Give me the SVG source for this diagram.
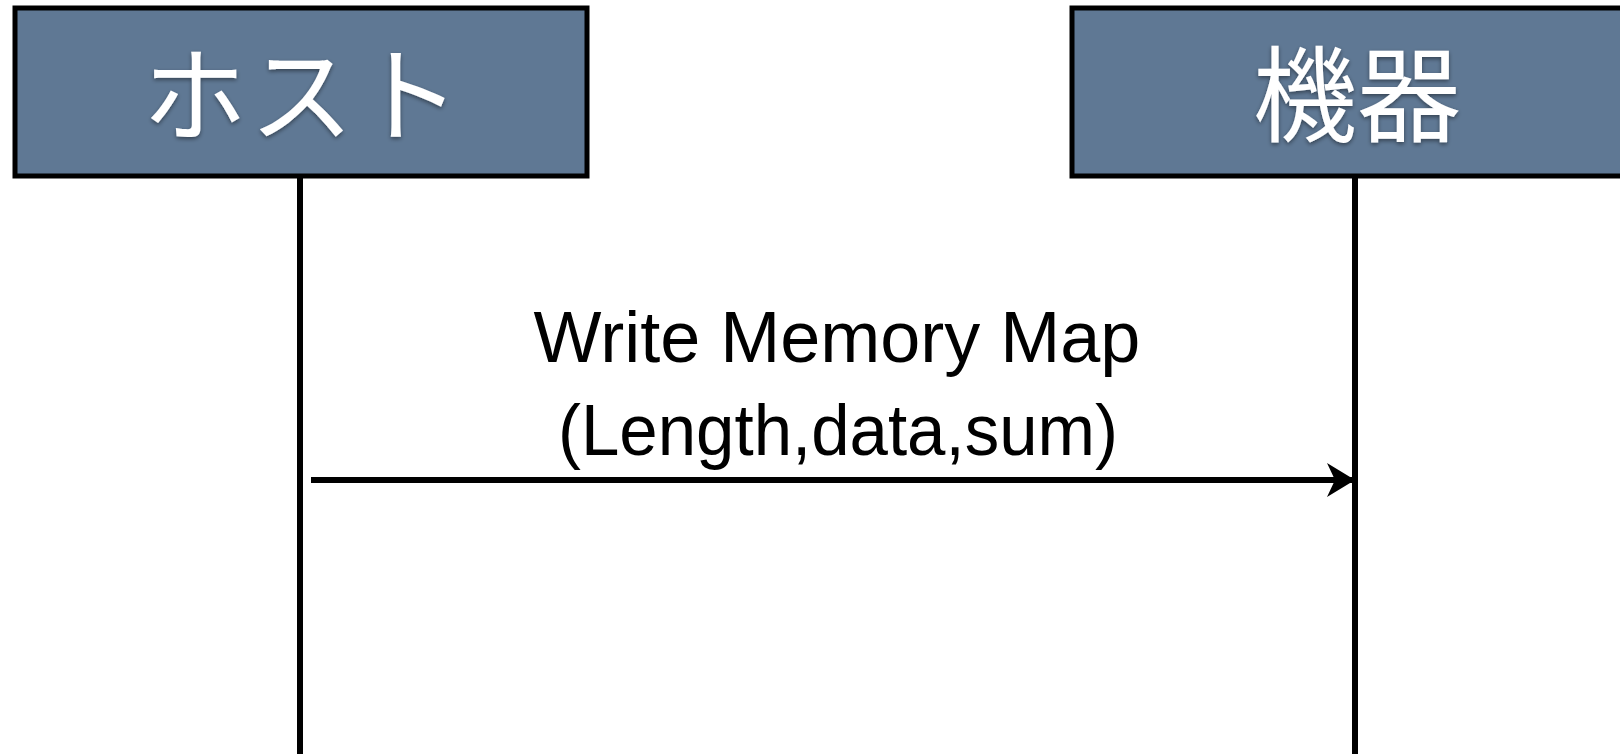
<svg xmlns="http://www.w3.org/2000/svg" width="1620" height="754" viewBox="0 0 1620 754">
  <style>
    .box { fill: #5f7894; stroke: #000; stroke-width: 5; }
    .title { font-family: "Noto Sans CJK JP", "Noto Sans", sans-serif; font-size: 104px; fill: #fff; text-anchor: middle; }
    .life { stroke: #000; stroke-width: 6; fill: none; }
    .msg { font-family: "Liberation Sans", Arial, sans-serif; font-size: 72px; fill: #000; text-anchor: middle; }
  </style>
  <defs>
    <filter id="shadow" x="-10%" y="-10%" width="120%" height="130%">
      <feDropShadow dx="0" dy="2" stdDeviation="2" flood-color="#000" flood-opacity="0.45"/>
    </filter>
    <marker id="arrow" markerWidth="30" markerHeight="36" refX="29" refY="18" orient="auto" markerUnits="userSpaceOnUse">
      <path d="M1,1 L29,18 L1,35 L9,18 Z" fill="#000"/>
    </marker>
  </defs>
  <rect width="1620" height="754" fill="#fff"/>

  <g id="host">
    <rect class="box" x="15" y="8" width="572" height="168"/>
    <text class="title" x="303" y="134" letter-spacing="3" filter="url(#shadow)">ホスト</text>
  </g>

  <g id="device">
    <rect class="box" x="1072" y="8" width="560" height="168"/>
    <text class="title" x="1357" y="134" filter="url(#shadow)">機器</text>
  </g>

  <g id="connectors">
    <line class="life" x1="300" y1="176" x2="300" y2="754"/>
    <line class="life" x1="1355" y1="176" x2="1355" y2="754"/>
    <line class="life" x1="311" y1="480" x2="1355" y2="480" marker-end="url(#arrow)"/>
    <text class="msg" x="837" y="362">Write Memory Map</text>
    <text class="msg" x="838" y="455" textLength="560" lengthAdjust="spacingAndGlyphs">(Length,data,sum)</text>
  </g>
</svg>
